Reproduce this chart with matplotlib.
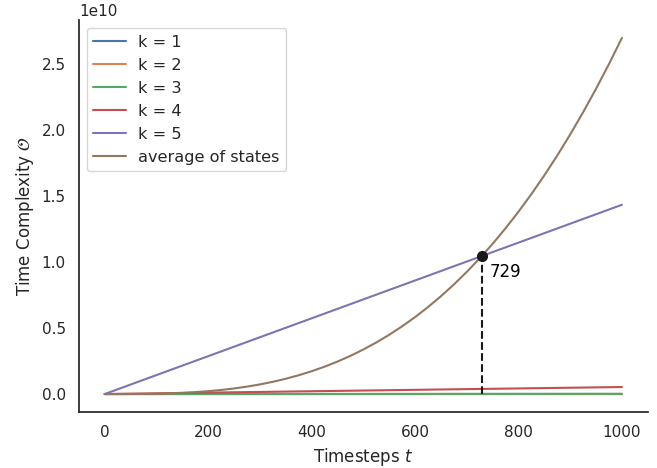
import matplotlib
matplotlib.use("Agg")
import matplotlib.pyplot as plt
import seaborn as sns

# straight lines: values at the two ends
t_ends = [0, 1000]
k_labels = ['k = 1', 'k = 2', 'k = 3', 'k = 4', 'k = 5']
k_vals = [
    [0, 2.7e4],
    [0, 7.29e5],
    [0, 1.97e7],
    [0, 5.31e8],
    [0, 1.435e10],
]

# average of states curve, values in units of 1e9
t_avg = [0, 25, 50, 75, 100, 125, 150, 175, 200, 225, 250, 275, 300, 325,
         350, 375, 400, 425, 450, 475, 500, 525, 550, 575, 600, 625, 650,
         675, 700, 725, 750, 775, 800, 825, 850, 875, 900, 925, 950, 975, 1000]
avg_vals_e9 = [0, 0.0004, 0.0034, 0.0114, 0.027, 0.0527, 0.0911, 0.1447,
               0.216, 0.3075, 0.4219, 0.5615, 0.729, 0.9269, 1.1576, 1.4238,
               1.728, 2.0727, 2.4604, 2.8936, 3.375, 3.907, 4.4921, 5.133,
               5.832, 6.5918, 7.4149, 8.3038, 9.261, 10.2891, 11.3906,
               12.5681, 13.824, 15.1609, 16.5814, 18.0879, 19.683, 21.3692,
               23.1491, 25.0252, 27.0]
avg_vals = [v * 1e9 for v in avg_vals_e9]

cross_t = 729
cross_y = 1.046e10

sns.set_theme(style='white')
fig, ax = plt.subplots(figsize=(6.57, 4.68), dpi=100)
fig.subplots_adjust(left=0.120, right=0.986, bottom=0.12, top=0.957)

for lab, v in zip(k_labels, k_vals):
    ax.plot(t_ends, v, label=lab)
ax.plot(t_avg, avg_vals, label='average of states')

ax.plot([cross_t, cross_t], [0, cross_y], 'k--', linewidth=1.5)
ax.plot(cross_t, cross_y, 'ko', markersize=7)
ax.annotate(str(cross_t), (cross_t, cross_y), xytext=(6, -15),
            textcoords='offset points', fontsize=12, color='black')

ax.set_xlabel('Timesteps $t$')
ax.set_ylabel(r'Time Complexity $\mathcal{O}$')
ax.legend(loc='upper left', fontsize=11.6)
sns.despine()

fig.savefig('out.png', dpi=100)
